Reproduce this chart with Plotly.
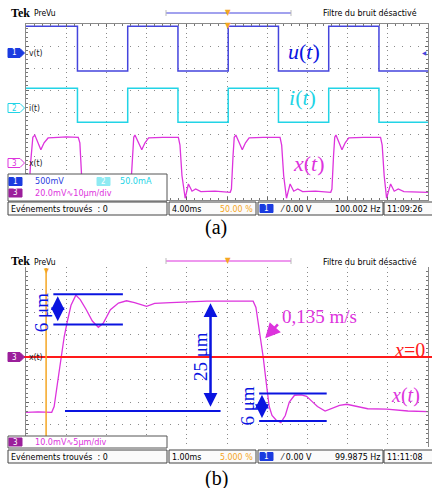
import plotly.graph_objects as go

W, H = 432, 488

def fx(p):
    return p / W

def fy(p):
    return 1 - p / H

# ---------------- data (oscilloscope divisions) ----------------
# panel (a): 10 horizontal divisions (4 ms/div), 8 vertical divisions
u_t = [0.0, 1.28, 2.53, 3.78, 5.03, 6.28, 7.53, 8.78, 10.0]
u_v = [3.9, 1.86, 3.9, 1.86, 3.9, 1.86, 3.9, 1.86, 1.86]
i_t = [0.0, 1.28, 2.53, 3.78, 5.03, 6.28, 7.53, 8.78, 10.0]
i_v = [1.08, -0.47, 1.08, -0.47, 1.08, -0.47, 1.08, -0.47, -0.47]

xa_t = [0.00, 0.07, 0.12, 0.17, 0.22, 0.29, 0.37, 0.45, 0.55, 0.80, 1.00, 1.30,
        1.34, 1.38, 1.43, 1.50, 1.58, 1.68, 1.85, 2.20, 2.55,
        2.60, 2.64, 2.68, 2.71, 2.79, 2.88, 2.96, 3.05, 3.40, 3.79,
        3.83, 3.88, 3.96, 4.04, 4.13, 4.22, 4.35, 4.70, 5.08,
        5.11, 5.15, 5.18, 5.22, 5.29, 5.38, 5.46, 5.55, 5.90, 6.32,
        6.36, 6.41, 6.48, 6.57, 6.66, 6.76, 6.88, 7.20, 7.58,
        7.61, 7.65, 7.68, 7.71, 7.78, 7.86, 7.94, 8.03, 8.40, 8.82,
        8.86, 8.91, 8.97, 9.07, 9.16, 9.26, 9.40, 9.70, 10.0]
xa_v = [-3.65, -3.65, -2.2, -1.15, -1.05, -1.35, -1.72, -1.40, -1.18, -1.15, -1.13, -1.15,
        -1.4, -2.8, -3.92, -3.25, -3.6, -3.5, -3.65, -3.62, -3.65,
        -3.6, -2.2, -1.15, -1.05, -1.35, -1.72, -1.40, -1.18, -1.15, -1.15,
        -1.5, -2.9, -3.92, -3.27, -3.6, -3.5, -3.62, -3.6, -3.65,
        -3.5, -2.0, -1.15, -1.05, -1.35, -1.72, -1.40, -1.18, -1.15, -1.15,
        -1.5, -2.9, -3.92, -3.27, -3.6, -3.5, -3.62, -3.6, -3.65,
        -3.5, -2.0, -1.15, -1.05, -1.35, -1.72, -1.40, -1.18, -1.15, -1.15,
        -1.5, -2.9, -3.92, -3.27, -3.6, -3.5, -3.62, -3.62, -3.65]

# panel (b): 1 ms/div, 5 um/div
xb_t = [0.0, 0.30, 0.64, 0.70, 0.78, 0.87, 0.95, 1.03, 1.12, 1.24, 1.35, 1.50, 1.65, 1.80,
        1.92, 2.10, 2.30, 2.50, 2.70, 3.00, 3.20, 3.60, 4.00, 4.50, 5.00, 5.40, 5.65,
        5.72, 5.80, 5.90, 5.98, 6.05, 6.12, 6.22, 6.34, 6.45, 6.55, 6.68, 6.85, 6.98,
        7.10, 7.25, 7.44, 7.60, 7.80, 7.98, 8.20, 8.50, 8.97, 9.50, 10.0]
xb_v = [-2.46, -2.44, -2.46, -2.2, -1.2, 0.0, 0.9, 1.6, 2.3, 2.75, 2.55, 2.1, 1.6, 1.32,
        1.5, 2.1, 2.4, 2.5, 2.42, 2.25, 2.38, 2.42, 2.45, 2.48, 2.48, 2.47, 2.48,
        2.2, 1.3, 0.0, -1.2, -2.2, -2.6, -2.8, -2.92, -2.6, -2.0, -1.7, -1.68, -1.75,
        -1.95, -2.2, -2.4, -2.3, -2.15, -2.1, -2.18, -2.3, -2.32, -2.4, -2.43]

# text content
status_a = ["Evénements trouvés  : 0", "4.00ms", "50.00 %", "0.00 V", "100.002 Hz", "11:09:26"]
status_b = ["Evénements trouvés  : 0", "1.00ms", "5.000 %", "0.00 V", "99.9875 Hz", "11:11:08"]

BLUE = "#4444dd"
CYAN = "#22d4e6"
MAG = "#dd33dd"
ABLUE = "#0a14e0"
RED = "#ff1a1a"
ORANGE = "#f5a623"
PURPLE = "#9b1f9b"
SERIF = "Liberation Serif, Times New Roman, serif"
NARROW = "Liberation Sans Narrow, DejaVu Sans Condensed, Arial Narrow, sans-serif"

fig = go.Figure()
fig.add_trace(go.Scatter(x=u_t, y=u_v, mode="lines", line=dict(color=BLUE, width=1.5, shape="hv"),
                         xaxis="x", yaxis="y", hoverinfo="skip"))
fig.add_trace(go.Scatter(x=i_t, y=i_v, mode="lines", line=dict(color=CYAN, width=1.5, shape="hv"),
                         xaxis="x", yaxis="y", hoverinfo="skip"))
fig.add_trace(go.Scatter(x=xa_t, y=xa_v, mode="lines", line=dict(color=MAG, width=1.3),
                         xaxis="x", yaxis="y", hoverinfo="skip"))
fig.add_trace(go.Scatter(x=xb_t, y=xb_v, mode="lines", line=dict(color=MAG, width=1.3),
                         xaxis="x2", yaxis="y2", hoverinfo="skip"))

def axis(dom, rng, dt, griddash):
    return dict(domain=dom, range=rng, dtick=dt, tick0=0, showticklabels=False,
                showgrid=True, gridcolor="#8a8a8a", gridwidth=1, griddash=griddash,
                zeroline=False, showline=True, linecolor="#8a8a8a", linewidth=1, mirror="ticks",
                ticks="inside", ticklen=3, tickcolor="#666",
                minor=dict(dtick=dt / 5, ticks="inside", ticklen=2, tickcolor="#777", showgrid=False),
                fixedrange=True)

shapes = []
ann = []

def rect(x0, y0, x1, y1, line="#555", fill="white", w=1, layer="above"):
    shapes.append(dict(type="rect", xref="paper", yref="paper", x0=fx(x0), x1=fx(x1),
                       y0=fy(y0), y1=fy(y1), line=dict(color=line, width=w), fillcolor=fill,
                       layer=layer))

def text(x, y, s, size=10, color="black", family=NARROW, xanchor="left", angle=0, **kw):
    ann.append(dict(xref="paper", yref="paper", x=fx(x), y=fy(y), text=s, showarrow=False,
                    xanchor=xanchor, yanchor="middle", textangle=angle,
                    font=dict(size=size, color=color, family=family), **kw))

def pill(x0, x1, yc, color, label, txtcolor="white"):
    shapes.append(dict(type="rect", xref="paper", yref="paper", x0=fx(x0), x1=fx(x1),
                       y0=fy(yc + 4), y1=fy(yc - 4), line=dict(color=color, width=1),
                       fillcolor=color, layer="above"))
    text((x0 + x1) / 2, yc, label, size=8, color=txtcolor, xanchor="center")

def chmark(yc, color, label, filled, txt):
    path = (f"M {fx(8)},{fy(yc-4.5)} L {fx(20)},{fy(yc-4.5)} L {fx(24.5)},{fy(yc)} "
            f"L {fx(20)},{fy(yc+4.5)} L {fx(8)},{fy(yc+4.5)} Z")
    shapes.append(dict(type="path", xref="paper", yref="paper", path=path,
                       line=dict(color=color, width=1),
                       fillcolor=color if filled else "white", layer="above"))
    text(14, yc, label, size=8, color="white" if filled else color, xanchor="center")
    text(26.5, yc, txt, size=8.5, color="#222", family="DejaVu Sans Condensed, sans-serif")

def header(ytop, barcolor):
    text(9, ytop, "<b>Tek</b>", size=12, family=SERIF)
    text(32, ytop + 0.5, "PreVu", size=8.5)
    text(419, ytop + 0.5, "Filtre du bruit désactivé", size=8.8, xanchor="right")
    shapes.append(dict(type="line", xref="paper", yref="paper", x0=fx(166), x1=fx(291),
                       y0=fy(ytop), y1=fy(ytop), line=dict(color=barcolor, width=1.2)))
    for xx in (166, 291):
        shapes.append(dict(type="line", xref="paper", yref="paper", x0=fx(xx), x1=fx(xx),
                           y0=fy(ytop - 3), y1=fy(ytop + 3), line=dict(color="#bbb", width=1)))
    text(228, ytop - 1, "▼", size=8, color=ORANGE, xanchor="center")

def status(ytop, vals):
    yb = ytop + 13
    yc = ytop + 6.5
    rect(8, ytop, 167, yb, line="#444", fill="#fbfbfb")
    rect(169, ytop, 256, yb, line="#444", fill="#fbfbfb")
    rect(258, ytop, 383, yb, line="#444", fill="#fbfbfb")
    rect(384, ytop, 433, yb, line="#444", fill="#fbfbfb")
    text(9, yc, vals[0], size=8.8)
    text(170, yc, vals[1], size=8.8)
    text(255, yc, vals[2], size=8.8, color=ORANGE, xanchor="right")
    pill(260, 273, yc, "#1a3be0", "1")
    text(278, yc, "⁄ " + vals[3], size=8.8)
    text(382, yc, vals[4], size=8.8, xanchor="right")
    text(385, yc, vals[5], size=8.8)

# ---------------- panel (a) decorations ----------------
header(13, BLUE)
text(228, 25, "▼", size=8, color=ORANGE, xanchor="center")
chmark(53, "#1a3be0", "1", True, "v(t)")
chmark(108, CYAN, "2", False, "i(t)")
chmark(163, MAG, "3", False, "x(t)")
text(429, 53, "◀", size=6, color=BLUE, xanchor="right")
rect(8, 174, 167, 201, line="#555", fill="white")
pill(9, 22, 181.5, "#1a3be0", "1")
text(33, 181.5, "500mV", size=9, color="#2a3ee0")
pill(97, 110, 181.5, "#8eeaf2", "2")
text(118, 181.5, "50.0mA", size=9, color=CYAN)
pill(9, 22, 193, PURPLE, "3")
text(33, 193, "20.0mV∿10μm/div", size=9, color=MAG)
status(202, status_a)
text(216, 228, "(a)", size=20, family=SERIF, xanchor="center")

ann.append(dict(xref="x", yref="y", x=6.92, y=2.74, text="<i>u</i>(<i>t</i>)", showarrow=False,
                font=dict(size=22, color=ABLUE, family=SERIF)))
ann.append(dict(xref="x", yref="y", x=6.89, y=0.64, text="<i>i</i>(<i>t</i>)", showarrow=False,
                font=dict(size=22, color=CYAN, family=SERIF)))
ann.append(dict(xref="x", yref="y", x=7.04, y=-2.32, text="<i>x</i>(<i>t</i>)", showarrow=False,
                font=dict(size=22, color=MAG, family=SERIF)))

# ---------------- panel (b) decorations ----------------
header(261, MAG)
shapes.append(dict(type="line", xref="paper", yref="paper", x0=fx(24), x1=fx(432),
                   y0=fy(357), y1=fy(357), line=dict(color=RED, width=2), layer="above"))
shapes.append(dict(type="line", xref="x2", yref="paper", x0=0.5, x1=0.5,
                   y0=fy(447), y1=fy(268), line=dict(color=ORANGE, width=1.5), layer="above"))
text(46, 271, "▼", size=7, color=ORANGE, xanchor="center")
chmark(357, PURPLE, "3", True, "x(t)")
rect(8, 436, 167, 448, line="#555", fill="white")
pill(9, 22, 442, PURPLE, "3")
text(33, 442, "10.0mV∿5μm/div", size=9, color=MAG)
status(450, status_b)
text(216, 478, "(b)", size=20, family=SERIF, xanchor="center")

def hline(x0, x1, y):
    shapes.append(dict(type="line", xref="x2", yref="y2", x0=x0, x1=x1, y0=y, y1=y,
                       line=dict(color=ABLUE, width=2), layer="above"))

def darrow(x, y0, y1, color=ABLUE):
    ann.append(dict(xref="x2", yref="y2", axref="x2", ayref="y2", x=x, y=y1, ax=x, ay=y0,
                    text="", showarrow=True, arrowhead=2, arrowside="end+start",
                    arrowsize=1.1, arrowwidth=2.5, arrowcolor=color))

hline(0.68, 2.41, 2.79)
hline(0.68, 2.41, 1.44)
darrow(0.79, 1.52, 2.70)
hline(0.97, 4.84, -2.40)
darrow(4.59, -2.28, 2.39)
hline(5.80, 7.48, -1.62)
hline(5.80, 7.48, -2.84)
darrow(5.87, -2.78, -1.68)

ann.append(dict(xref="x2", yref="y2", x=0.39, y=1.98, text="6 μm", showarrow=False, textangle=-90,
                font=dict(size=19, color=ABLUE, family=SERIF)))
ann.append(dict(xref="x2", yref="y2", x=4.33, y=0.0, text="25 μm", showarrow=False, textangle=-90,
                font=dict(size=19, color=ABLUE, family=SERIF)))
ann.append(dict(xref="x2", yref="y2", x=5.50, y=-2.2, text="6 μm", showarrow=False, textangle=-90,
                font=dict(size=19, color=ABLUE, family=SERIF)))
ann.append(dict(xref="x2", yref="y2", x=7.31, y=1.82, text="0,135 m/s", showarrow=False,
                font=dict(size=19, color=MAG, family=SERIF)))
ann.append(dict(xref="x2", yref="y2", axref="x2", ayref="y2", x=5.95, y=0.83, ax=6.30, ay=1.52,
                text="", showarrow=True, arrowhead=2, arrowsize=1.2, arrowwidth=2.5, arrowcolor=MAG))
ann.append(dict(xref="x2", yref="y2", x=9.53, y=0.31, text="<i>x</i>=0", showarrow=False,
                font=dict(size=20, color=RED, family=SERIF)))
ann.append(dict(xref="x2", yref="y2", x=9.45, y=-1.69, text="<i>x</i>(<i>t</i>)", showarrow=False,
                font=dict(size=20, color=MAG, family=SERIF)))

fig.update_layout(
    width=W, height=H, margin=dict(l=0, r=0, t=0, b=0),
    paper_bgcolor="white", plot_bgcolor="white", showlegend=False,
    xaxis=axis([fx(26), fx(428)], [0, 10], 1, "1px,3.4px"),
    yaxis=axis([fy(200), fy(24)], [-4, 4], 1, "1px,7px"),
    xaxis2=axis([fx(26), fx(428)], [0, 10], 1, "1px,3.5px"),
    yaxis2=axis([fy(447), fy(267)], [-4, 4], 1, "1px,7px"),
    shapes=shapes, annotations=ann,
)
fig.write_html("out.html", config={"displayModeBar": False, "staticPlot": True},
               post_script="document.body.style.margin='0';document.body.style.overflow='hidden';")
